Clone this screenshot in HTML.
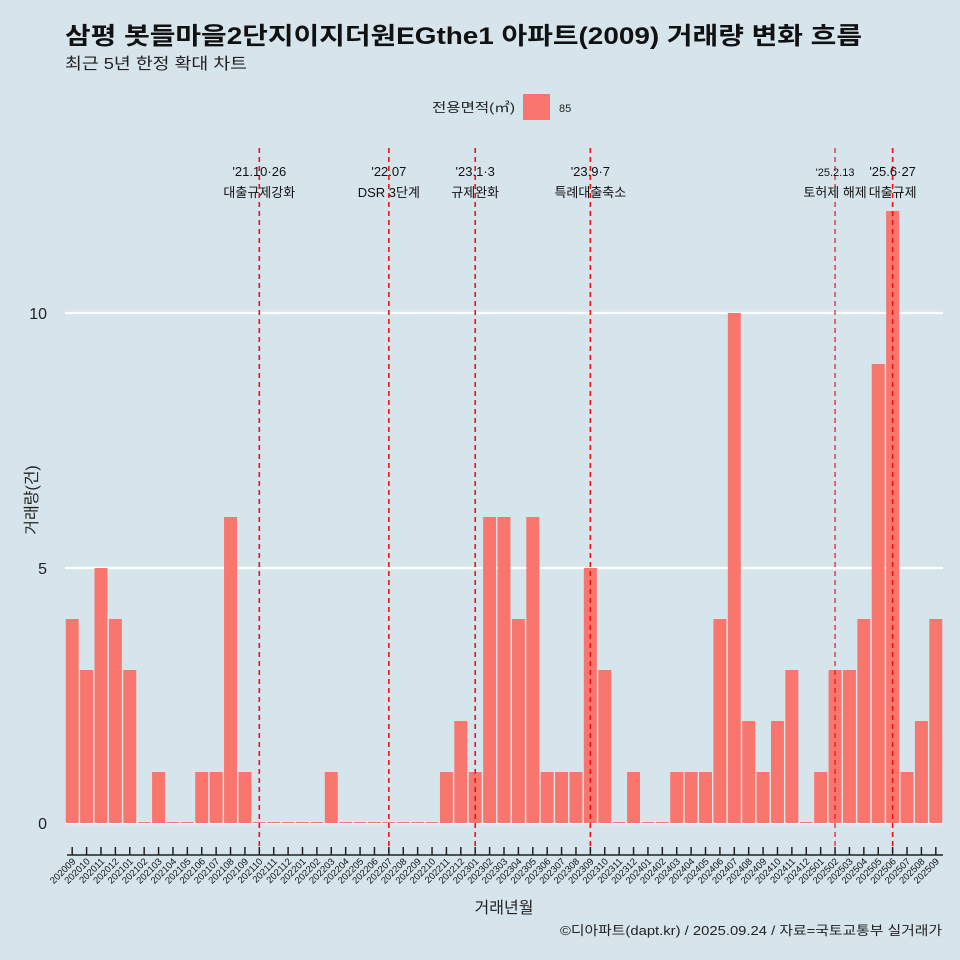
<!DOCTYPE html>
<html><head><meta charset="utf-8"><style>
body{margin:0;background:#d6e4ec;}
svg{display:block;font-family:"Liberation Sans","Noto Sans CJK KR",sans-serif;}
</style></head><body>
<svg id="chart" width="960" height="960" viewBox="0 0 960 960">
<rect width="960" height="960" fill="#d6e4ec"/>
<text x="65" y="44" font-size="24" font-weight="bold" fill="#111" textLength="797" lengthAdjust="spacingAndGlyphs">삼평 봇들마을2단지이지더원EGthe1 아파트(2009) 거래량 변화 흐름</text>
<text x="65" y="69" font-size="16" fill="#222" textLength="182" lengthAdjust="spacingAndGlyphs">최근 5년 한정 확대 차트</text>
<g>
<text x="432" y="112" font-size="13" fill="#222" textLength="83" lengthAdjust="spacingAndGlyphs">전용면적(㎡)</text>
<rect x="523" y="94" width="27" height="26" fill="#f8766d"/>
<text x="559" y="112" font-size="11" fill="#222">85</text>
</g>
<g id="grid"></g><g id="bars"></g><g id="events"></g><g id="xaxis"></g>
<text x="37" y="500" font-size="16" fill="#222" text-anchor="middle" transform="rotate(-90 37 500)">거래량(건)</text>
<text x="504" y="913" font-size="16" fill="#222" text-anchor="middle">거래년월</text>
<text x="560" y="935" font-size="13" fill="#222" textLength="382" lengthAdjust="spacingAndGlyphs">©디아파트(dapt.kr) / 2025.09.24 / 자료=국토교통부 실거래가</text>
</svg>
<script>
const categories=["202009","202010","202011","202012","202101","202102","202103","202104","202105","202106","202107","202108","202109","202110","202111","202112","202201","202202","202203","202204","202205","202206","202207","202208","202209","202210","202211","202212","202301","202302","202303","202304","202305","202306","202307","202308","202309","202310","202311","202312","202401","202402","202403","202404","202405","202406","202407","202408","202409","202410","202411","202412","202501","202502","202503","202504","202505","202506","202507","202508","202509"];
const counts=[4,3,5,4,3,0,1,0,0,1,1,6,1,0,0,0,0,0,1,0,0,0,0,0,0,0,1,2,1,6,6,4,6,1,1,1,5,3,0,1,0,0,1,1,1,4,10,2,1,2,3,0,1,3,3,4,9,12,1,2,4];
const yTicks=[0,5,10];
const eventMonths=["202110","202207","202301","202309","202502","202506"];
const eventDates=["'21.10·26","'22.07","'23.1·3","'23.9·7","'25.2.13","'25.6·27"];
const eventTexts=["대출규제강화","DSR 3단계","규제완화","특례대출축소","토허제 해제","대출규제"];
const NS="http://www.w3.org/2000/svg";
const x0=65,x1=943,step=(x1-x0)/categories.length;
const xC=i=>x0+step*(i+0.5);
const y=v=>823-v*51;
function mk(t,a,p){const e=document.createElementNS(NS,t);for(const k in a)e.setAttribute(k,a[k]);p.appendChild(e);return e;}
const g=document.getElementById('grid');
yTicks.forEach(v=>{
 const l=mk('line',{x1:x0,x2:x1,y1:y(v),y2:y(v),stroke:'#fff','stroke-width':2.2},g);
 
 
 const t=mk('text',{x:47,y:y(v)+6,'font-size':16,'text-anchor':'end',fill:'#222'},g);
 t.textContent=v;
 
 
});
const b=document.getElementById('bars');
counts.forEach((v,i)=>{
 const r=mk('rect',{x:xC(i)-step*0.45,width:step*0.9,y:y(v)-(v?0:1),height:v*51+(v?0:1),fill:'#f8766d'},b);
 
 
});
const ev=document.getElementById('events');
eventMonths.forEach((m,k)=>{
 const i=categories.indexOf(m),x=xC(i);
 const l=mk('line',{x1:x,x2:x,y1:148,y2:852,stroke:'#ee1111','stroke-width':k==4?1.2:1.6,'stroke-dasharray':'5 4'},ev);
 
 
 const t1=mk('text',{x:x,y:176,'font-size':k==4?11:13,'text-anchor':'middle',fill:'#111'},ev);
 t1.textContent=eventDates[k];
 
 
 const t2=mk('text',{x:x,y:197,'font-size':13,'text-anchor':'middle',fill:'#111'},ev);
 t2.textContent=eventTexts[k];
 
 
});
const xa=document.getElementById('xaxis');
const ax=mk('line',{x1:x0+2,x2:x1,y1:855,y2:855,stroke:'#222','stroke-width':1.5},xa);


categories.forEach((c,i)=>{
 const x=xC(i);
 const tk=mk('line',{x1:x,x2:x,y1:847,y2:855,stroke:'#222','stroke-width':1.5},xa);
 
 
 const t=mk('text',{x:x+4,y:862,'font-size':9.5,'text-anchor':'end',fill:'#111',transform:`rotate(-45 ${x+4} 862)`},xa);
 t.textContent=c;
 
 
});
</script>
</body></html>
